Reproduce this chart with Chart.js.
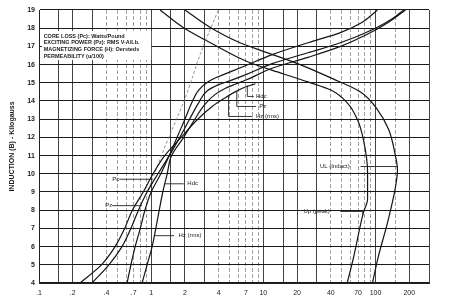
<!DOCTYPE html>
<html>
<head>
<meta charset="utf-8">
<script src="https://cdn.jsdelivr.net/npm/chart.js@4.4.1/dist/chart.umd.min.js"></script>
<style>
  html, body { margin: 0; padding: 0; background: #fff; }
  #wrap { width: 452px; height: 302px; }
</style>
</head>
<body>
<div id="wrap"><canvas id="chart" width="452" height="302"></canvas></div>
<script>
// tick labels
const xTickLabels = [0.1, 0.2, 0.4, 0.7, 1, 2, 4, 7, 10, 20, 40, 70, 100, 200];
const xGridValues = [0.1, 0.15, 0.2, 0.3, 0.4, 0.5, 0.6, 0.7, 0.8, 0.9,
  1, 1.5, 2, 3, 4, 5, 6, 7, 8, 9, 10, 15, 20, 30, 40, 50, 60, 70, 80, 90,
  100, 150, 200, 300];
const yTicks = [4, 5, 6, 7, 8, 9, 10, 11, 12, 13, 14, 15, 16, 17, 18, 19];

// curves as [x, B]
const corePc = [[0.232, 4], [0.36, 5], [0.477, 6], [0.58, 7], [0.68, 8], [0.85, 9],
  [1.04, 10], [1.32, 11], [1.85, 12], [2.6, 13], [3.5, 13.7], [4.5, 14.15],
  [5.6, 14.5], [7, 14.78], [8.5, 14.95]];
const excitPz = [[0.297, 4], [0.42, 5], [0.55, 6], [0.66, 7], [0.77, 8], [0.92, 9],
  [1.15, 10], [1.45, 11], [1.8, 12], [2.2, 13], [2.65, 13.9], [3.15, 14.55], [4.0, 14.9],
  [5.07, 15.12], [7, 15.45], [12, 16.05], [25, 16.65], [48.7, 17.2], [100, 18],
  [140, 18.5], [178, 19]];
const hdc = [[0.61, 4], [0.66, 5], [0.72, 6], [0.8, 7], [0.88, 8], [1.0, 9],
  [1.22, 10], [1.45, 11], [1.7, 12], [2.0, 13], [2.3, 13.9], [2.65, 14.6], [3.2, 15.05],
  [4.0, 15.35], [5.07, 15.6], [7, 15.95], [12, 16.55], [25, 17.2], [48.7, 17.76],
  [75, 18.3], [104, 19]];
const hzRms = [[0.83, 4], [0.92, 5], [1.02, 6], [1.1, 7], [1.18, 8], [1.27, 9],
  [1.39, 10], [1.52, 11], [1.95, 12], [2.45, 13], [3.0, 13.8], [3.7, 14.35], [4.6, 14.7],
  [5.6, 14.92], [7, 15.15], [12, 15.8], [25, 16.4], [48.7, 17.0], [100, 17.9],
  [140, 18.45], [185, 19]];
const thinDash = [[0.94, 9.1], [1.35, 11.6], [2.05, 14.3], [2.75, 16.6], [3.97, 19]];
const muPeak = [[56, 4], [64, 5.45], [78, 7.87], [85, 8.6], [85, 10.07], [78, 11.88],
  [69, 12.98], [56, 13.9], [40, 14.6], [25, 15.05], [15, 15.5], [7.6, 16.1],
  [3.37, 17.2], [1.93, 18.04], [1.2, 19]];
const muIncr = [[94, 4], [106, 5.45], [128, 7.32], [151, 9.3], [157, 10.24], [151, 10.95],
  [131, 12.43], [104, 13.53], [73.5, 14.5], [39, 15.3], [21.3, 16.0], [10.8, 16.66],
  [6.2, 17.2], [3.37, 18.04], [2.0, 19]];

const legendLines = [
  "CORE LOSS (Pc): Watts/Pound",
  "EXCITING POWER (Pz): RMS V-A/Lb.",
  "MAGNETIZING FORCE (H): Oersteds",
  "PERMEABILITY (u/100)"
];

// curve labels: text anchor and leader path, in data units
const notes = [
  { text: "Pc", at: [0.45, 9.7], path: [[0.52, 9.7], [1.02, 9.7]] },
  { text: "Pz", at: [0.39, 8.25], path: [[0.45, 8.25], [0.83, 8.25]] },
  { text: "Hdc", at: [2.1, 9.45], path: [[1.33, 9.45], [1.95, 9.45]] },
  { text: "Hz (rms)", at: [1.75, 6.6], path: [[1.06, 6.6], [1.6, 6.6]] },
  { text: "Hdc", at: [8.6, 14.25], path: [[7.2, 14.85], [7.2, 14.25], [8.2, 14.25]] },
  { text: "Pz", at: [9.2, 13.7], path: [[5.8, 14.55], [5.8, 13.7], [8.6, 13.7]] },
  { text: "Hz (rms)", at: [8.6, 13.15], path: [[4.9, 14.3], [4.9, 13.15], [8.0, 13.15]] },
  { text: "UL (Indact)", at: [32, 10.4], path: [[73.5, 10.4], [157, 10.4]] },
  { text: "Up (peak)", at: [22.8, 7.93], path: [[48.7, 7.93], [77, 7.93], [77, 7.7]] }
];

const toXY = arr => arr.map(p => ({ x: p[0], y: p[1] }));

function curve(data, extra) {
  return Object.assign({
    data: toXY(data),
    borderColor: "#151515",
    borderWidth: 1.2,
    pointRadius: 0,
    fill: false,
    cubicInterpolationMode: "monotone"
  }, extra || {});
}

const annotate = {
  id: "annotate",
  beforeDatasetsDraw(chart) {
    const { ctx, scales: { x, y } } = chart;
    // white box behind the legend text
    const bx0 = x.getPixelForValue(0.106), bx1 = x.getPixelForValue(1.0);
    const by0 = y.getPixelForValue(17.85), by1 = y.getPixelForValue(16.25);
    ctx.save();
    ctx.fillStyle = "#fff";
    ctx.fillRect(bx0, by0, bx1 - bx0, by1 - by0);
    ctx.restore();
  },
  afterDatasetsDraw(chart) {
    const { ctx, scales: { x, y } } = chart;
    ctx.save();
    ctx.fillStyle = "#222";
    ctx.font = "bold 5.5px 'Liberation Sans', Arial, sans-serif";
    ctx.textBaseline = "middle";
    const lx = x.getPixelForValue(0.11);
    legendLines.forEach((t, i) => {
      ctx.fillText(t, lx, y.getPixelForValue(17.55 - i * 0.36));
    });
    ctx.strokeStyle = "#222";
    ctx.lineWidth = 0.9;
    ctx.font = "6px 'Liberation Sans', Arial, sans-serif";
    notes.forEach(n => {
      ctx.beginPath();
      n.path.forEach((p, i) => {
        const px = x.getPixelForValue(p[0]), py = y.getPixelForValue(p[1]);
        if (i === 0) ctx.moveTo(px, py); else ctx.lineTo(px, py);
      });
      ctx.stroke();
      ctx.fillText(n.text, x.getPixelForValue(n.at[0]), y.getPixelForValue(n.at[1]));
    });
    ctx.restore();
  }
};

const majorGrid = [0.1, 0.15, 0.2, 0.3, 1, 1.5, 2, 3, 10, 15, 20, 30, 100, 200, 300];

new Chart(document.getElementById("chart"), {
  type: "line",
  data: {
    datasets: [
      curve(corePc),
      curve(excitPz),
      curve(hdc),
      curve(hzRms),
      curve(thinDash, { borderColor: "#777", borderWidth: 0.8, borderDash: [3, 2] }),
      curve(muPeak),
      curve(muIncr)
    ]
  },
  options: {
    indexAxis: "y",
    responsive: false,
    animation: false,
    layout: { padding: { top: 10, right: 23, left: 0, bottom: 0 } },
    plugins: { legend: { display: false }, tooltip: { enabled: false } },
    scales: {
      x: {
        type: "logarithmic",
        min: 0.1,
        max: 300,
        afterBuildTicks(scale) {
          scale.ticks = xGridValues.map(v => ({ value: v }));
        },
        afterFit(scale) { scale.height = 19; },
        ticks: {
          autoSkip: false,
          maxRotation: 0,
          padding: 6,
          color: "#222",
          font: { size: 7, family: "'Liberation Sans', Arial, sans-serif" },
          callback(value) {
            if (!xTickLabels.includes(value)) return "";
            return value < 1 ? String(value).replace("0.", ".") : String(value);
          }
        },
        grid: {
          drawTicks: false,
          color: c => majorGrid.includes(c.tick.value) ? "#444" : "#8a8a8a",
          lineWidth: c => majorGrid.includes(c.tick.value) ? 1 : 0.8
        },
        border: {
          color: "#222",
          width: 1,
          dash: c => (c.tick && !majorGrid.includes(c.tick.value)) ? [4, 2] : []
        }
      },
      y: {
        type: "linear",
        min: 4,
        max: 19,
        afterBuildTicks(scale) {
          scale.ticks = yTicks.map(v => ({ value: v }));
        },
        afterFit(scale) { scale.width = 39; },
        title: {
          display: true,
          text: "INDUCTION (B) - Kilogauss",
          color: "#222",
          font: { size: 7, weight: "bold", family: "'Liberation Sans', Arial, sans-serif" },
          padding: { top: 8, bottom: 2 }
        },
        ticks: {
          padding: 4,
          color: "#222",
          font: { size: 7, weight: "bold", family: "'Liberation Sans', Arial, sans-serif" }
        },
        grid: {
          drawTicks: false,
          color: "#1a1a1a",
          lineWidth: 1.1
        },
        border: { color: "#222", width: 1 }
      }
    }
  },
  plugins: [annotate]
});
</script>
</body>
</html>
